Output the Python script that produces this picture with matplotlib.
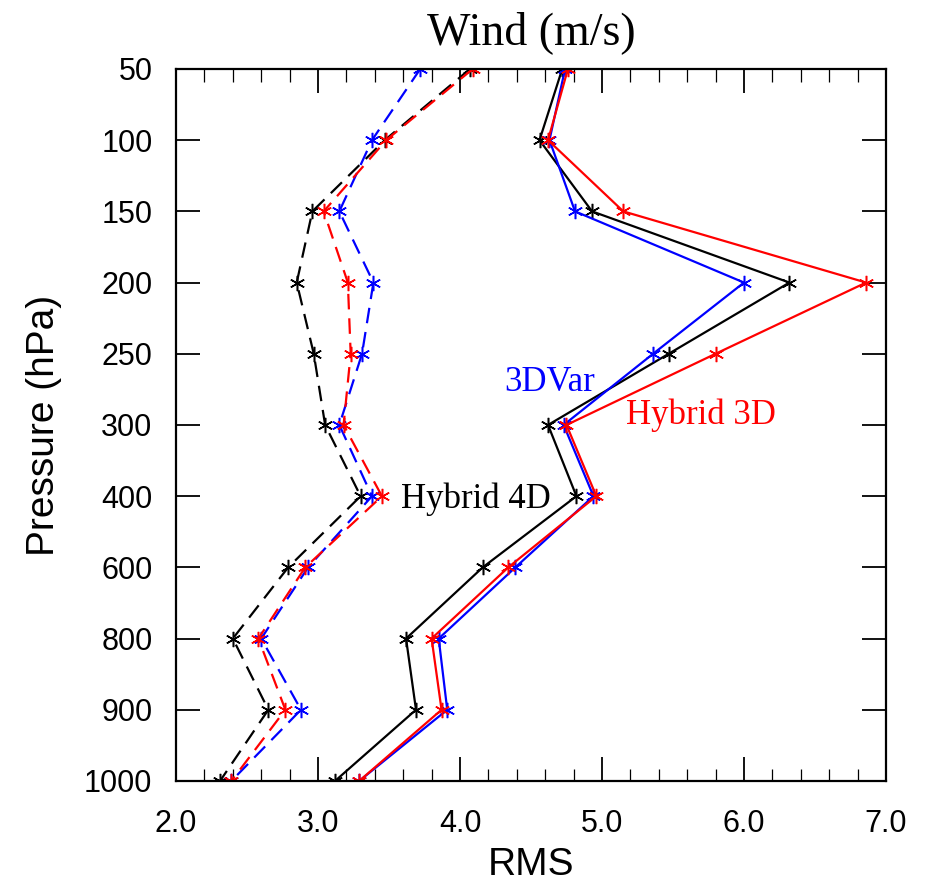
import numpy as np
import matplotlib.pyplot as plt
from matplotlib.ticker import MultipleLocator, FormatStrFormatter

# pressure levels (hPa), drawn as equally spaced categories
levels = [50, 100, 150, 200, 250, 300, 400, 600, 800, 900, 1000]

# dashed profiles
dash_hyb4d = [4.07, 3.47, 2.96, 2.85, 2.97, 3.05, 3.30, 2.79, 2.40, 2.65, 2.31]
dash_3dvar = [3.72, 3.38, 3.15, 3.39, 3.31, 3.15, 3.38, 2.93, 2.60, 2.88, 2.39]
dash_hyb3d = [4.09, 3.48, 3.04, 3.21, 3.23, 3.18, 3.45, 2.91, 2.58, 2.77, 2.39]

# solid profiles
solid_hyb4d = [4.72, 4.56, 4.93, 6.32, 5.47, 4.62, 4.82, 4.16, 3.62, 3.69, 3.12]
solid_3dvar = [4.74, 4.63, 4.81, 6.00, 5.36, 4.73, 4.94, 4.39, 3.85, 3.91, 3.29]
solid_hyb3d = [4.76, 4.62, 5.15, 6.86, 5.80, 4.75, 4.96, 4.34, 3.80, 3.87, 3.29]

sans = ['Liberation Sans', 'DejaVu Sans']
serif = ['Liberation Serif', 'DejaVu Serif']

fig = plt.figure(figsize=(9.28, 8.91), dpi=100)
ax = fig.add_axes([0.1897, 0.1235, 0.765, 0.7991])

pos = np.arange(len(levels))
star = (6, 2, 0)
common = dict(marker=star, markersize=11, markeredgewidth=1.1, linewidth=1.6)

ax.plot(dash_hyb4d, pos, color='black', linestyle=(0, (7, 4)), **common)
ax.plot(dash_3dvar, pos, color='blue', linestyle=(0, (7, 4)), **common)
ax.plot(dash_hyb3d, pos, color='red', linestyle=(0, (7, 4)), **common)

ax.plot(solid_hyb4d, pos, color='black', **common)
ax.plot(solid_3dvar, pos, color='blue', **common)
ax.plot(solid_hyb3d, pos, color='red', **common)

ax.set_xlim(2.0, 7.0)
ax.set_ylim(len(levels) - 1, 0)
ax.set_yticks(pos)
ax.set_yticklabels([str(v) for v in levels])
ax.xaxis.set_major_locator(MultipleLocator(1.0))
ax.xaxis.set_minor_locator(MultipleLocator(0.2))
ax.xaxis.set_major_formatter(FormatStrFormatter('%.1f'))

ax.tick_params(axis='both', which='major', direction='in', length=17, width=1.3,
               top=True, right=True, labelsize=22)
ax.tick_params(axis='x', which='minor', direction='in', length=9, width=0.9,
               top=True, bottom=True)
ax.tick_params(axis='x', which='major', pad=20)
ax.tick_params(axis='y', which='major', pad=17)
for lab in ax.get_xticklabels() + ax.get_yticklabels():
    lab.set_family(sans)
for sp in ax.spines.values():
    sp.set_linewidth(1.6)

ax.set_xlabel('RMS', fontsize=28, family=sans, labelpad=6)
ax.set_ylabel('Pressure (hPa)', fontsize=28, family=sans, labelpad=16)
ax.set_title('Wind (m/s)', fontsize=33, family=serif, pad=18)

ax.text(4.63, 4.41, '3DVar', color='blue', fontsize=25, family=serif,
        ha='center', va='center')
ax.text(5.70, 4.87, 'Hybrid 3D', color='red', fontsize=25, family=serif,
        ha='center', va='center')
ax.text(4.11, 6.04, 'Hybrid 4D', color='black', fontsize=25, family=serif,
        ha='center', va='center')

fig.savefig('out.png', dpi=100)
